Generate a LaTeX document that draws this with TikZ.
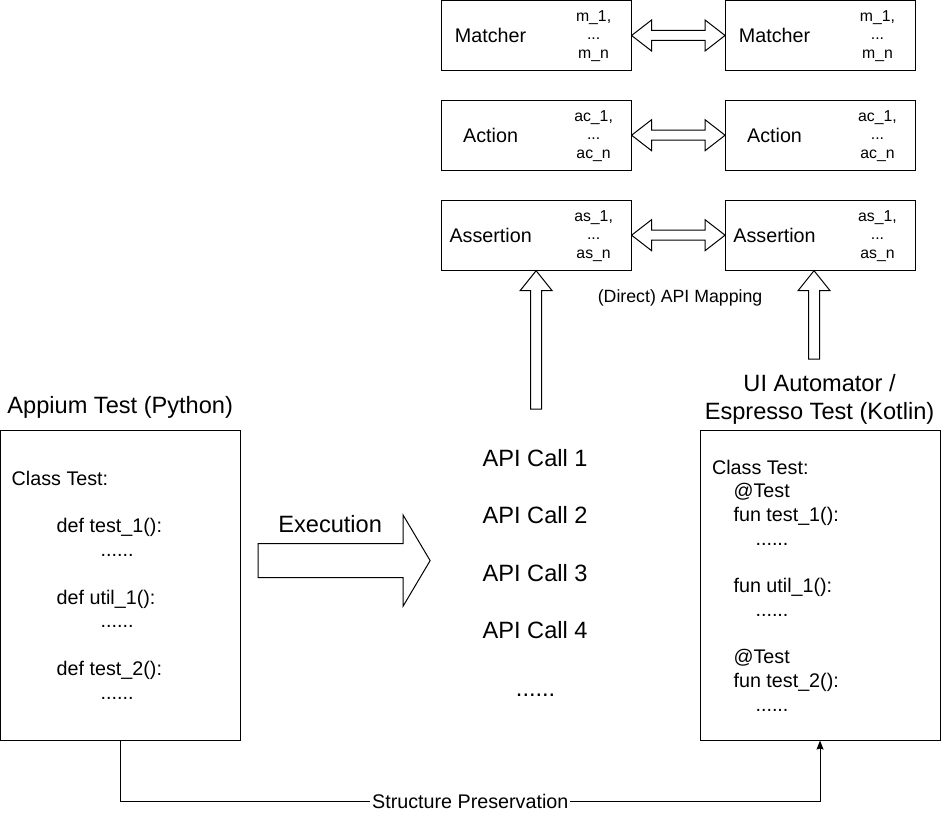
\documentclass[tikz,border=0pt]{standalone}
\usepackage{fontspec}
\setmainfont{Liberation Sans}
\usetikzlibrary{arrows.meta,calc}
\begin{document}
\begin{tikzpicture}[x=0.75pt, y=-0.75pt, line width=0.75pt, >={Stealth[length=6.75pt,width=5.25pt,inset=0.8pt]},
	apibox/.style={draw, minimum width=142.5pt, minimum height=52.5pt, inner sep=0pt},
	testbox/.style={draw, minimum width=180pt, minimum height=232.5pt, inner sep=0pt},
	hollow/.style={draw, fill=white},
	big/.style={inner sep=0pt, font=\fontsize{17.7pt}{21pt}\selectfont},
	mid/.style={inner sep=0pt, font=\fontsize{14.8pt}{17.8pt}\selectfont},
	code/.style={mid, anchor=base west},
	idx/.style={inner sep=0pt, align=center, font=\fontsize{11.85pt}{13.9pt}\selectfont}]
	\fill[white] (0,0) rectangle (941,814);
	
	% API boxes and the mapping between them
	\foreach \row/\y/\name/\pre in {mat/35.25/Matcher/m, act/135/Action/ac, asr/235/Assertion/as} {
		\node[apibox] (\row L) at (536,\y) {};
		\node[apibox] (\row R) at (820.5,\y) {};
		\node[mid] (\row Lname) at (490.5,\y) {\name};
		\node[mid] (\row Rname) at (774.5,\y) {\name};
		\node[idx] (\row Lidx) at (593.5,\y+0.5) {\pre\_1,\\...\\\pre\_n};
		\node[idx] (\row Ridx) at (877.5,\y+0.5) {\pre\_1,\\...\\\pre\_n};
		\draw[hollow] (\row L.east) -- ++(20,-15.5) -- ++(0,10.5) -- ($(\row R.west)+(-20,-5)$) -- ++(0,-10.5) -- (\row R.west) -- ++(-20,15.5) -- ++(0,-10.5) -- ($(\row L.east)+(20,5)$) -- ++(0,10.5) -- cycle;
	}
	\node[inner sep=0pt, anchor=base, font=\fontsize{13.3pt}{16pt}\selectfont] (mapLabel) at (680,302.3) {(Direct) API Mapping};
	
	% test boxes
	\node[testbox] (pyTest) at (120.25,585) {};
	\node[testbox] (ktTest) at (820,585) {};
	\node[big, anchor=base] (pyHead) at (120,413.5) {Appium Test (Python)};
	\node[big, anchor=base] (ktHead) at (819.5,391.5) {UI Automator /};
	\node[big, anchor=base] (ktHeadB) at (819.5,419.5) {Espresso Test (Kotlin)};
	\foreach \k/\cx/\ctext in {0/11/Class Test:, 2/56/def test\_1():, 3/100/{......}, 5/56/def util\_1():, 6/100/{......}, 8/56/def test\_2():, 9/100/{......}}
		\node[code] (py\k) at (\cx,{485+23.8*\k}) {\ctext};
	\foreach \k/\cx/\ctext in {0/711.5/Class Test:, 1/733/@Test, 2/733/fun test\_1():, 3/755/{......}, 5/733/fun util\_1():, 6/755/{......}, 8/733/@Test, 9/733/fun test\_2():, 10/755/{......}}
		\node[code] (kt\k) at (\cx,{474+23.7*\k}) {\ctext};
	
	% execution
	\coordinate (exeTail) at (258,560.5);
	\coordinate (exeTip) at (430,560.5);
	\draw[hollow] (exeTail) -- ++(0,-17) -- ++(145,0) -- ++(0,-28.5) -- (exeTip) -- ++(-27,45.5) -- ++(0,-28.5) -- ++(-145,0) -- cycle;
	\node[big, anchor=base] (exeLabel) at (330,532.3) {Execution};
	\foreach \i in {1,2,3,4}
		\node[big, anchor=base] (call\i) at (535,{466.5+57.3*(\i-1)}) {API Call \i};
	\node[big, anchor=base] (callMore) at (535.5,696) {......};
	
	% up arrows
	\coordinate (upL) at (536,409);
	\coordinate (upR) at (814,359);
	\foreach \c/\b in {upL/asrL, upR/asrR}
		\draw[hollow] (\b.south -| \c) -- ++(16,20) -- ++(-10.5,0) -- ($(\c)+(5.5,0)$) -- ($(\c)+(-5.5,0)$) -- ($(\b.south -| \c)+(-5.5,20)$) -- ++(-10.5,0) -- cycle;
	
	\draw[->] (pyTest.south) -- ++(0,60.5) -| (ktTest.south) node[pos=0.25, mid, fill=white, inner sep=1.5pt] (keepLabel) {Structure Preservation};
\end{tikzpicture}
\end{document}
